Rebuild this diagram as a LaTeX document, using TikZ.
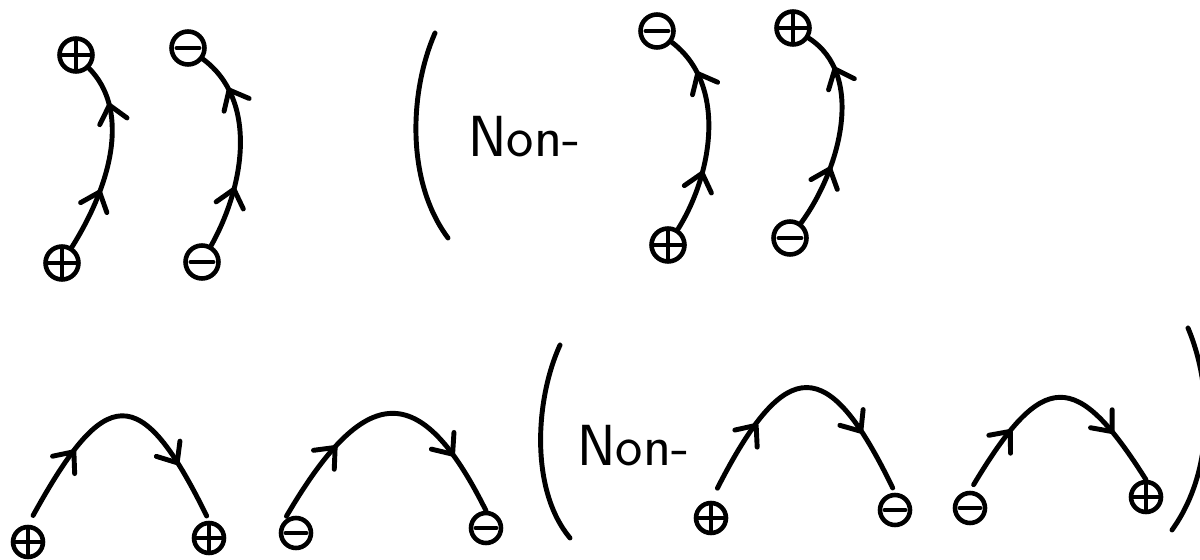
\documentclass[tikz,border=0pt]{standalone}
\usetikzlibrary{calc,decorations.markings}

\begin{document}
\begin{tikzpicture}[
      x=0.02cm, y=-0.02cm,
      line width=2.8pt,
      line cap=round,
      line join=round,
      charge/.style={
        circle,
        draw,
        line width=2.6pt,
        minimum size=0.66cm,
        inner sep=0pt
      },
      lowrow/.style={minimum size=0.6cm},
      plus/.style={
        charge,
        path picture={
          \draw[line width=2pt]
            (path picture bounding box.north) -- (path picture bounding box.south)
            (path picture bounding box.west) -- (path picture bounding box.east);
        }
      },
      minus/.style={
        charge,
        path picture={
          \draw[line width=2.2pt]
            ($(path picture bounding box.west)!.15!(path picture bounding box.east)$)
            -- ($(path picture bounding box.west)!.85!(path picture bounding box.east)$);
        }
      },
      barb/.style={shorten <=0pt, shorten >=0pt},
      arrowsat/.style 2 args={
        postaction={decorate, decoration={markings,
          mark=at position #1 with {\draw[barb] (-9.5pt,8pt) -- (0pt,0pt) -- (-9.5pt,-8pt);},
          mark=at position #2 with {\draw[barb] (-9.5pt,8pt) -- (0pt,0pt) -- (-9.5pt,-8pt);}}}
      },
      word/.style={
        anchor=west,
        inner sep=0pt,
        font=\sffamily\fontsize{33}{40}\selectfont
      }
    ]
      \useasboundingbox (0,0) rectangle (1200,560);
      \clip (0,0) rectangle (1200,560);

      \node[plus] (b1) at (62,263) {};
      \node[plus] (t1) at (76,55) {};
      \node[minus] (b2) at (202,262) {};
      \node[minus] (t2) at (188,48) {};
      \node[plus] (b3) at (668,245) {};
      \node[minus] (t3) at (657,31) {};
      \node[minus] (b4) at (790,238) {};
      \node[plus] (t4) at (793,28) {};

      \draw[arrowsat={0.32}{0.78}] (b1) .. controls (115,178) and (128,108) .. (t1);
      \draw[arrowsat={0.3}{0.8}] (b2) .. controls (245,185) and (258,100) .. (t2);
      \draw[arrowsat={0.3}{0.8}] (b3) .. controls (712,175) and (728,85) .. (t3);
      \draw[arrowsat={0.3}{0.8}] (b4) .. controls (840,170) and (866,75) .. (t4);

      \draw (435,33) .. controls (410,90) and (405,180) .. (448,238);
      \node[word] (w1) at (466,137) {Non-};

      \node[plus, lowrow] (l1) at (28,542) {};
      \node[plus, lowrow] (r1) at (209,538) {};
      \node[minus, lowrow] (l2) at (296,533) {};
      \node[minus, lowrow] (r2) at (486,528) {};
      \node[plus, lowrow] (l3) at (711,518) {};
      \node[minus, lowrow] (r3) at (895,510) {};
      \node[minus, lowrow] (l4) at (970,508) {};
      \node[plus, lowrow] (r4) at (1146,497) {};

      \draw[arrowsat={0.3}{0.77}, shorten <=6pt, shorten >=3pt]
        (l1.north) .. controls (105,385) and (140,380) .. (r1.north);
      \draw[arrowsat={0.3}{0.78}, shorten <=3pt]
        (l2.north west) .. controls (365,382) and (420,378) .. (r2.north);
      \draw[arrowsat={0.3}{0.76}, shorten <=8pt, shorten >=3pt]
        (l3.north) .. controls (786,354) and (828,354) .. (r3.north);
      \draw[arrowsat={0.28}{0.77}, shorten <=4pt]
        (l4.north) .. controls (1043,369) and (1076,369) .. (r4.north);

      \draw (560,345) .. controls (535,400) and (530,490) .. (570,538);
      \node[word] (w2) at (575,446) {Non-};
      \draw (1188,328) .. controls (1212,385) and (1215,470) .. (1172,530);
    \end{tikzpicture}
\end{document}
